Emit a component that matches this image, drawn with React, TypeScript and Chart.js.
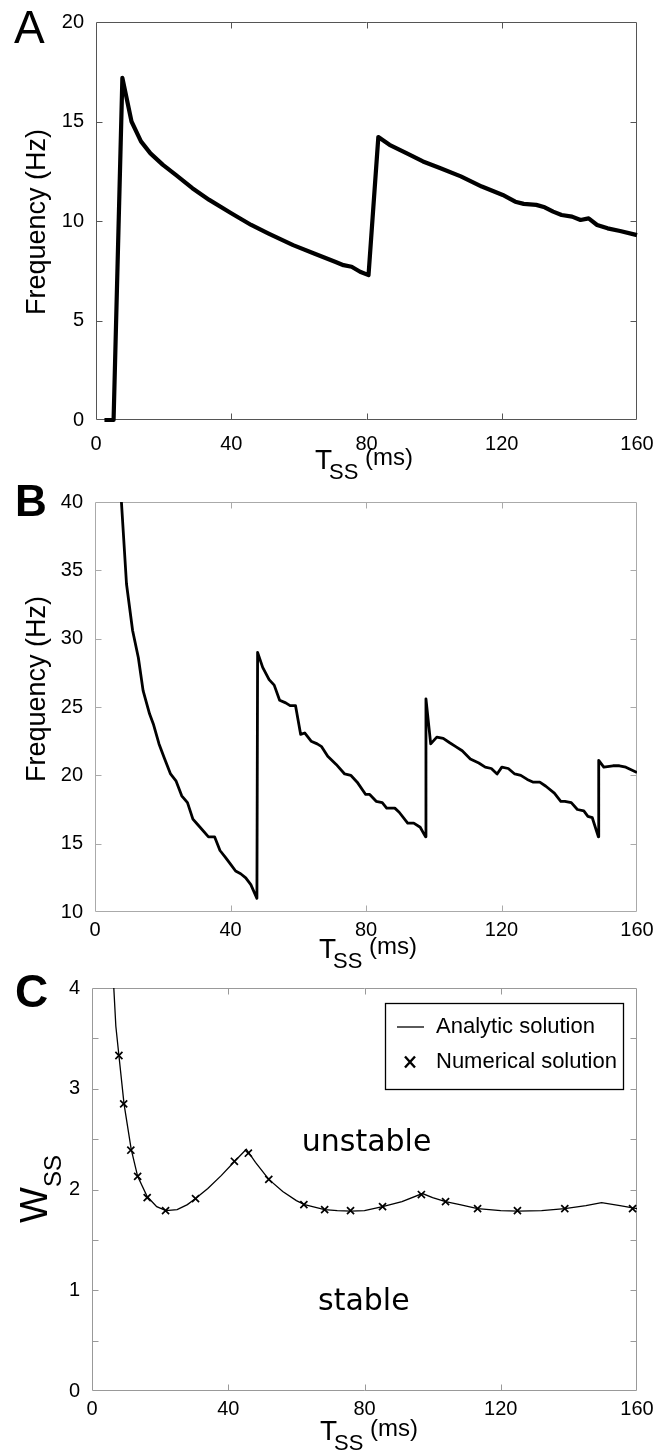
import React, { useEffect, useRef } from "react";
import { Chart, registerables } from "chart.js";

Chart.register(...registerables);

const FONT = "'Liberation Sans', Arial, Helvetica, sans-serif";
const DEJAVU = "'DejaVu Sans', sans-serif";

// shared x axis (T_SS in ms)
const tssTicks = [0, 40, 80, 120, 160];

// Panel A
const aTss = [2.5, 5.2, 7.8, 10.5, 13.3, 16.1, 19.8, 23.6, 28.5, 33.5, 40, 45.9, 50.9, 58.3, 64.5, 70.7, 73.2, 75.6, 78.1, 80.6, 83.5, 86.8, 91.8, 96.7, 101.7, 107.9, 114.1, 120.3, 122.2, 124.0, 126.5, 130.2, 132.7, 135.2, 137.7, 140.8, 143.3, 145.7, 148.2, 151.3, 155.0, 160];
const aFreq = [0, 0, 17.19, 15.0, 14.0, 13.4, 12.82, 12.32, 11.65, 11.06, 10.39, 9.8, 9.38, 8.79, 8.37, 7.95, 7.78, 7.7, 7.45, 7.28, 14.22, 13.83, 13.41, 12.99, 12.66, 12.24, 11.73, 11.31, 11.14, 10.97, 10.86, 10.81, 10.69, 10.47, 10.3, 10.22, 10.05, 10.13, 9.8, 9.63, 9.5, 9.29];
const aYTicks = [0, 5, 10, 15, 20];

// Panel B
const bTss = [7.8, 9.3, 11.1, 12.8, 14.2, 16.1, 17.3, 18.9, 20.4, 22.3, 23.9, 25.6, 27.3, 28.9, 30.3, 33.5, 35.3, 36.9, 38.5, 40, 41.5, 43, 44.5, 46, 47.8, 48.0, 49.5, 51.4, 52.9, 54.5, 56.3, 57.6, 59.2, 60.7, 61.9, 63.8, 65.6, 66.9, 68.7, 71.2, 73.7, 75.5, 77.4, 79.9, 81.1, 83.0, 84.8, 86.1, 88.5, 89.8, 92.3, 94.1, 96.0, 97.6, 97.7, 99.1, 100.9, 102.8, 104.6, 106.5, 108.4, 110.8, 113.3, 115.2, 117.0, 118.7, 120.1, 122.0, 123.9, 125.7, 127.6, 129.4, 131.3, 133.1, 135.6, 137.5, 138.7, 140.6, 142.4, 144.3, 145.5, 146.8, 148.6, 148.7, 150.2, 152.9, 154.8, 156.7, 160];
const bFreq = [40, 34.0, 30.6, 28.6, 26.2, 24.5, 23.7, 22.3, 21.3, 20.1, 19.6, 18.5, 18.0, 16.8, 16.4, 15.5, 15.5, 14.5, 14.0, 13.5, 13.0, 12.8, 12.5, 12.0, 11.0, 29.0, 27.9, 27.0, 26.6, 25.5, 25.3, 25.1, 25.1, 23.0, 23.1, 22.5, 22.3, 22.1, 21.4, 20.8, 20.1, 20.0, 19.5, 18.6, 18.6, 18.1, 18.0, 17.6, 17.6, 17.3, 16.5, 16.5, 16.2, 15.5, 25.6, 22.3, 22.8, 22.7, 22.4, 22.1, 21.8, 21.2, 20.9, 20.6, 20.5, 20.1, 20.6, 20.5, 20.1, 20.0, 19.7, 19.5, 19.5, 19.2, 18.7, 18.1, 18.1, 18.0, 17.5, 17.4, 17.0, 16.9, 15.5, 21.1, 20.6, 20.7, 20.7, 20.6, 20.2];
const bYTicks = [10, 15, 20, 25, 30, 35, 40];

// Panel C
const cAnalyticT = [6.4, 7.0, 7.9, 9.4, 11.5, 13.4, 16.2, 19.0, 21.7, 25.0, 28.0, 30.4, 34.0, 38.0, 41.9, 45.3, 48.0, 51.9, 56.0, 60.0, 62.4, 68.3, 72.0, 76.0, 80.0, 85.3, 91.0, 97.0, 100.0, 103.8, 108.0, 113.2, 120.0, 125.0, 132.0, 138.8, 145.0, 149.6, 155.0, 160];
const cAnalyticW = [4.0, 3.62, 3.33, 2.85, 2.4, 2.13, 1.93, 1.83, 1.79, 1.8, 1.85, 1.91, 2.01, 2.14, 2.28, 2.4, 2.27, 2.1, 1.98, 1.89, 1.85, 1.8, 1.79, 1.785, 1.79, 1.83, 1.88, 1.96, 1.92, 1.88, 1.85, 1.81, 1.79, 1.785, 1.79, 1.81, 1.84, 1.87, 1.84, 1.81];
const cNumericT = [7.9, 9.3, 11.4, 13.4, 16.2, 21.6, 30.4, 41.8, 45.9, 51.9, 62.2, 68.3, 75.9, 85.3, 96.7, 103.8, 113.2, 124.9, 138.8, 158.7];
const cNumericW = [3.33, 2.85, 2.39, 2.13, 1.92, 1.79, 1.91, 2.28, 2.36, 2.1, 1.85, 1.8, 1.79, 1.83, 1.95, 1.88, 1.81, 1.79, 1.81, 1.81];
const cYTicks = [0, 0.5, 1, 1.5, 2, 2.5, 3, 3.5, 4];

const legendLabels = ["Analytic solution", "Numerical solution"];
const regionLabels = ["unstable", "stable"];
const regionT = [80.6, 79.8];
const regionW = [2.38, 0.8];

const yTitleFreq = "Frequency (Hz)";
const xTitleMain = "T";
const xTitleSub = "SS";
const xTitleUnit = "(ms)";
const wTitleMain = "W";
const wTitleSub = "SS";

const TICK_FONT = { family: FONT, size: 20, lineHeight: 1 };

function pts(xs: number[], ys: number[]) {
  return xs.map((x, i) => ({ x, y: ys[i] }));
}

function makeScales(yMin: number, yMax: number, yTicks: number[], xPad: number, yLabel?: (v: number) => string) {
  return {
    x: {
      type: "linear",
      min: 0,
      max: 160,
      afterBuildTicks: (s: any) => {
        s.ticks = tssTicks.map((v) => ({ value: v }));
      },
      ticks: { font: TICK_FONT, color: "#000", padding: xPad, maxRotation: 0, autoSkip: false },
      grid: { display: false },
      border: { display: false },
      afterFit: (s: any) => {
        s.height = 30;
        s.paddingLeft = 0;
        s.paddingRight = 0;
        s.paddingTop = 0;
        s.paddingBottom = 0;
      },
    },
    y: {
      type: "linear",
      min: yMin,
      max: yMax,
      afterBuildTicks: (s: any) => {
        s.ticks = yTicks.map((v) => ({ value: v }));
      },
      ticks: {
        font: TICK_FONT,
        color: "#000",
        padding: 4,
        autoSkip: false,
        callback: (v: any) => (yLabel ? yLabel(Number(v)) : String(v)),
      },
      grid: { display: false },
      border: { display: false },
      afterFit: (s: any) => {
        s.width = 40;
        s.paddingLeft = 0;
        s.paddingRight = 0;
        s.paddingTop = 0;
        s.paddingBottom = 0;
      },
    },
  };
}

type Decor = {
  letter: string;
  letterFont: string;
  letterX: number;
  letterBase: number;
  frame: string;
  yTitle: "freq" | "wss";
  yTitleCY: number;
  xTitleX: number;
  xTitleBase: number;
  extra?: (chart: any) => void;
};

function decor(d: Decor) {
  return {
    id: "decor" + d.letter,
    beforeDatasetsDraw(chart: any) {
      const { ctx, chartArea: a } = chart;
      const xs = chart.scales.x;
      const ys = chart.scales.y;
      ctx.save();
      ctx.strokeStyle = d.frame;
      ctx.lineWidth = 1;
      const L = a.left + 0.5, R = a.right - 0.5, T = a.top + 0.5, B = a.bottom - 0.5;
      ctx.beginPath();
      ctx.rect(L, T, R - L, B - T);
      const len = 6;
      for (const t of xs.ticks) {
        const p = Math.round(xs.getPixelForValue(t.value)) + 0.5;
        if (p < L + 2 || p > R - 2) continue;
        ctx.moveTo(p, B);
        ctx.lineTo(p, B - len);
        ctx.moveTo(p, T);
        ctx.lineTo(p, T + len);
      }
      for (const t of ys.ticks) {
        const p = Math.round(ys.getPixelForValue(t.value)) + 0.5;
        if (p < T + 2 || p > B - 2) continue;
        ctx.moveTo(L, p);
        ctx.lineTo(L + len, p);
        ctx.moveTo(R, p);
        ctx.lineTo(R - len, p);
      }
      ctx.stroke();
      ctx.restore();
    },
    afterDraw(chart: any) {
      const { ctx } = chart;
      ctx.save();
      ctx.fillStyle = "#000";
      ctx.textAlign = "left";
      ctx.textBaseline = "alphabetic";
      ctx.font = d.letterFont;
      ctx.fillText(d.letter, d.letterX, d.letterBase);
      // x title T_SS (ms)
      ctx.font = `28px ${FONT}`;
      ctx.fillText(xTitleMain, d.xTitleX, d.xTitleBase);
      ctx.font = `22px ${FONT}`;
      ctx.fillText(xTitleSub, d.xTitleX + 14, d.xTitleBase + 10);
      ctx.font = `24px ${FONT}`;
      ctx.fillText(xTitleUnit, d.xTitleX + 50, d.xTitleBase - 4);
      // y title
      ctx.save();
      if (d.yTitle === "freq") {
        ctx.translate(45, d.yTitleCY);
        ctx.rotate(-Math.PI / 2);
        ctx.font = `27px ${FONT}`;
        ctx.textAlign = "center";
        ctx.fillText(yTitleFreq, 0, 0);
      } else {
        ctx.translate(47, d.yTitleCY);
        ctx.rotate(-Math.PI / 2);
        ctx.font = `38px ${FONT}`;
        const w1 = ctx.measureText(wTitleMain).width;
        ctx.font = `24px ${FONT}`;
        const w2 = ctx.measureText(wTitleSub).width;
        const x0 = -(w1 + w2) / 2;
        ctx.font = `38px ${FONT}`;
        ctx.fillText(wTitleMain, x0, 0);
        ctx.font = `24px ${FONT}`;
        ctx.fillText(wTitleSub, x0 + w1, 14);
      }
      ctx.restore();
      if (d.extra) d.extra(chart);
      ctx.restore();
    },
  };
}

function drawLegendAndRegions(chart: any) {
  const { ctx, chartArea: a } = chart;
  const xs = chart.scales.x;
  const ys = chart.scales.y;
  ctx.save();
  ctx.fillStyle = "#000";
  ctx.font = `30px ${DEJAVU}`;
  ctx.textAlign = "center";
  ctx.textBaseline = "alphabetic";
  regionLabels.forEach((s, i) => {
    ctx.fillText(s, xs.getPixelForValue(regionT[i]), ys.getPixelForValue(regionW[i]));
  });
  const lx = a.right - 252, rx = a.right - 13, ty = a.top + 15, by = a.top + 102;
  ctx.fillStyle = "#fff";
  ctx.fillRect(lx, ty, rx - lx, by - ty);
  ctx.strokeStyle = "#000";
  ctx.lineWidth = 1.3;
  ctx.strokeRect(lx + 0.5, ty + 0.5, rx - lx - 1, by - ty - 1);
  const y1 = ty + 24, y2 = ty + 59;
  ctx.lineWidth = 1.3;
  ctx.beginPath();
  ctx.moveTo(lx + 12, y1);
  ctx.lineTo(lx + 39, y1);
  ctx.stroke();
  ctx.lineWidth = 2.4;
  const mx = lx + 25;
  ctx.beginPath();
  ctx.moveTo(mx - 5, y2 - 5.5);
  ctx.lineTo(mx + 5, y2 + 5.5);
  ctx.moveTo(mx + 5, y2 - 5.5);
  ctx.lineTo(mx - 5, y2 + 5.5);
  ctx.stroke();
  ctx.fillStyle = "#000";
  ctx.font = `22px ${FONT}`;
  ctx.textAlign = "left";
  ctx.textBaseline = "middle";
  ctx.fillText(legendLabels[0], lx + 51, y1);
  ctx.fillText(legendLabels[1], lx + 51, y2);
  ctx.restore();
}

const common = {
  responsive: false,
  maintainAspectRatio: false,
  animation: false,
  devicePixelRatio: 1,
  events: [],
};

function configA(): any {
  return {
    type: "scatter",
    data: {
      datasets: [
        {
          data: pts(aTss, aFreq),
          showLine: true,
          borderColor: "#000",
          borderWidth: 4.2,
          borderJoinStyle: "round",
          pointRadius: 0,
          clip: false,
        },
      ],
    },
    options: {
      ...common,
      layout: { padding: { left: 56, right: 20, top: 22, bottom: 30 } },
      scales: makeScales(0, 20, aYTicks, 6),
      plugins: { legend: { display: false }, tooltip: { enabled: false } },
    },
    plugins: [
      decor({
        letter: "A",
        letterFont: `46px ${FONT}`,
        letterX: 14,
        letterBase: 43,
        frame: "#555",
        yTitle: "freq",
        yTitleCY: 222,
        xTitleX: 315,
        xTitleBase: 469,
      }),
    ],
  };
}

function configB(): any {
  return {
    type: "scatter",
    data: {
      datasets: [
        {
          data: pts(bTss, bFreq),
          showLine: true,
          borderColor: "#000",
          borderWidth: 2.8,
          borderJoinStyle: "round",
          pointRadius: 0,
        },
      ],
    },
    options: {
      ...common,
      layout: { padding: { left: 55, right: 20, top: 22, bottom: 30 } },
      scales: makeScales(10, 40, bYTicks, 0),
      plugins: { legend: { display: false }, tooltip: { enabled: false } },
    },
    plugins: [
      decor({
        letter: "B",
        letterFont: `bold 44px ${FONT}`,
        letterX: 15,
        letterBase: 36,
        frame: "#aaa",
        yTitle: "freq",
        yTitleCY: 209,
        xTitleX: 319,
        xTitleBase: 478,
      }),
    ],
  };
}

function configC(): any {
  return {
    type: "scatter",
    data: {
      datasets: [
        {
          data: pts(cAnalyticT, cAnalyticW),
          showLine: true,
          borderColor: "#000",
          borderWidth: 1.3,
          pointRadius: 0,
        },
        {
          data: pts(cNumericT, cNumericW),
          showLine: false,
          pointStyle: "crossRot",
          pointRadius: 5,
          pointBorderWidth: 1.7,
          pointBorderColor: "#000",
          pointBackgroundColor: "#000",
          clip: false,
        },
      ],
    },
    options: {
      ...common,
      layout: { padding: { left: 52, right: 20, top: 28, bottom: 31 } },
      scales: makeScales(0, 4, cYTicks, 0, (v) => (Number.isInteger(v) ? String(v) : "")),
      plugins: { legend: { display: false }, tooltip: { enabled: false } },
    },
    plugins: [
      decor({
        letter: "C",
        letterFont: `bold 46px ${FONT}`,
        letterX: 15,
        letterBase: 47,
        frame: "#999",
        yTitle: "wss",
        yTitleCY: 229,
        xTitleX: 320,
        xTitleBase: 480,
        extra: drawLegendAndRegions,
      }),
    ],
  };
}

export default function App() {
  const refA = useRef<HTMLCanvasElement>(null);
  const refB = useRef<HTMLCanvasElement>(null);
  const refC = useRef<HTMLCanvasElement>(null);

  useEffect(() => {
    const charts: Chart[] = [];
    if (refA.current) charts.push(new Chart(refA.current, configA()));
    if (refB.current) charts.push(new Chart(refB.current, configB()));
    if (refC.current) charts.push(new Chart(refC.current, configC()));
    return () => {
      charts.forEach((c) => c.destroy());
    };
  }, []);

  const cs = (top: number, h: number): React.CSSProperties => ({
    position: "absolute",
    left: 0,
    top,
    width: 657,
    height: h,
  });

  return (
    <div style={{ position: "absolute", left: 0, top: 0, width: 657, height: 1452, background: "#fff" }}>
      <canvas ref={refA} width={657} height={480} style={cs(0, 480)} />
      <canvas ref={refB} width={657} height={492} style={cs(480, 492)} />
      <canvas ref={refC} width={657} height={492} style={cs(960, 492)} />
    </div>
  );
}
